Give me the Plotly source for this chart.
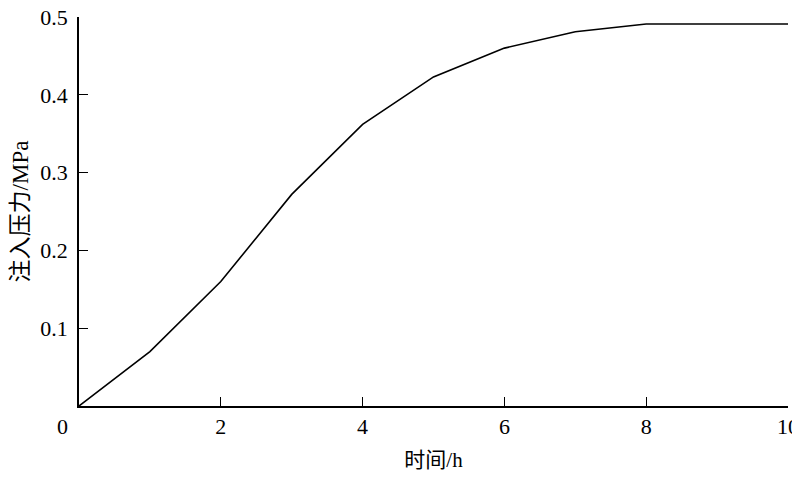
import plotly.graph_objects as go

time_h = [0, 1, 2, 3, 4, 5, 6, 7, 8, 9, 10]
pressure_mpa = [0, 0.07, 0.16, 0.272, 0.362, 0.423, 0.46, 0.481, 0.491, 0.491, 0.491]
x_ticks = [2, 4, 6, 8, 10]
y_ticks = [0.1, 0.2, 0.3, 0.4, 0.5]

serif = "Liberation Serif, Times New Roman, serif"
cjk = "Liberation Serif, Noto Sans CJK SC, serif"

fig = go.Figure()
fig.add_trace(go.Scatter(x=time_h, y=pressure_mpa, mode="lines",
                         line=dict(color="black", width=1.6), showlegend=False))

fig.update_layout(
    width=800, height=478,
    margin=dict(l=71, r=20, t=9, b=80),
    paper_bgcolor="white", plot_bgcolor="white",
    font=dict(family=serif, size=21, color="black"),
    xaxis=dict(range=[0, 10], tickvals=x_ticks, ticks="inside", ticklen=9,
               tickwidth=1.3, tickcolor="black", showline=True, linecolor="black",
               linewidth=1.5, showgrid=False, zeroline=False, automargin=False,
               ticklabeloverflow="allow",
               tickfont=dict(family=serif, size=22, color="black"),
               title=dict(text="时间/h", font=dict(family=cjk, size=21, color="black"), standoff=14)),
    yaxis=dict(range=[0, 0.5], tickvals=y_ticks, ticks="inside", ticklen=9,
               tickwidth=1.3, tickcolor="black", showline=True, linecolor="black",
               linewidth=1.5, showgrid=False, zeroline=False, automargin=False,
               ticklabeloverflow="allow", ticklabelstandoff=5,
               tickfont=dict(family=serif, size=22, color="black"),
               title=dict(text="注入压力/MPa", font=dict(family=cjk, size=23, color="black"), standoff=12)),
)
fig.add_annotation(x=0, y=0, xref="x", yref="y", text="0", showarrow=False,
                   xshift=-17, yshift=-20, font=dict(family=serif, size=22, color="black"))
fig.write_html("out.html")
